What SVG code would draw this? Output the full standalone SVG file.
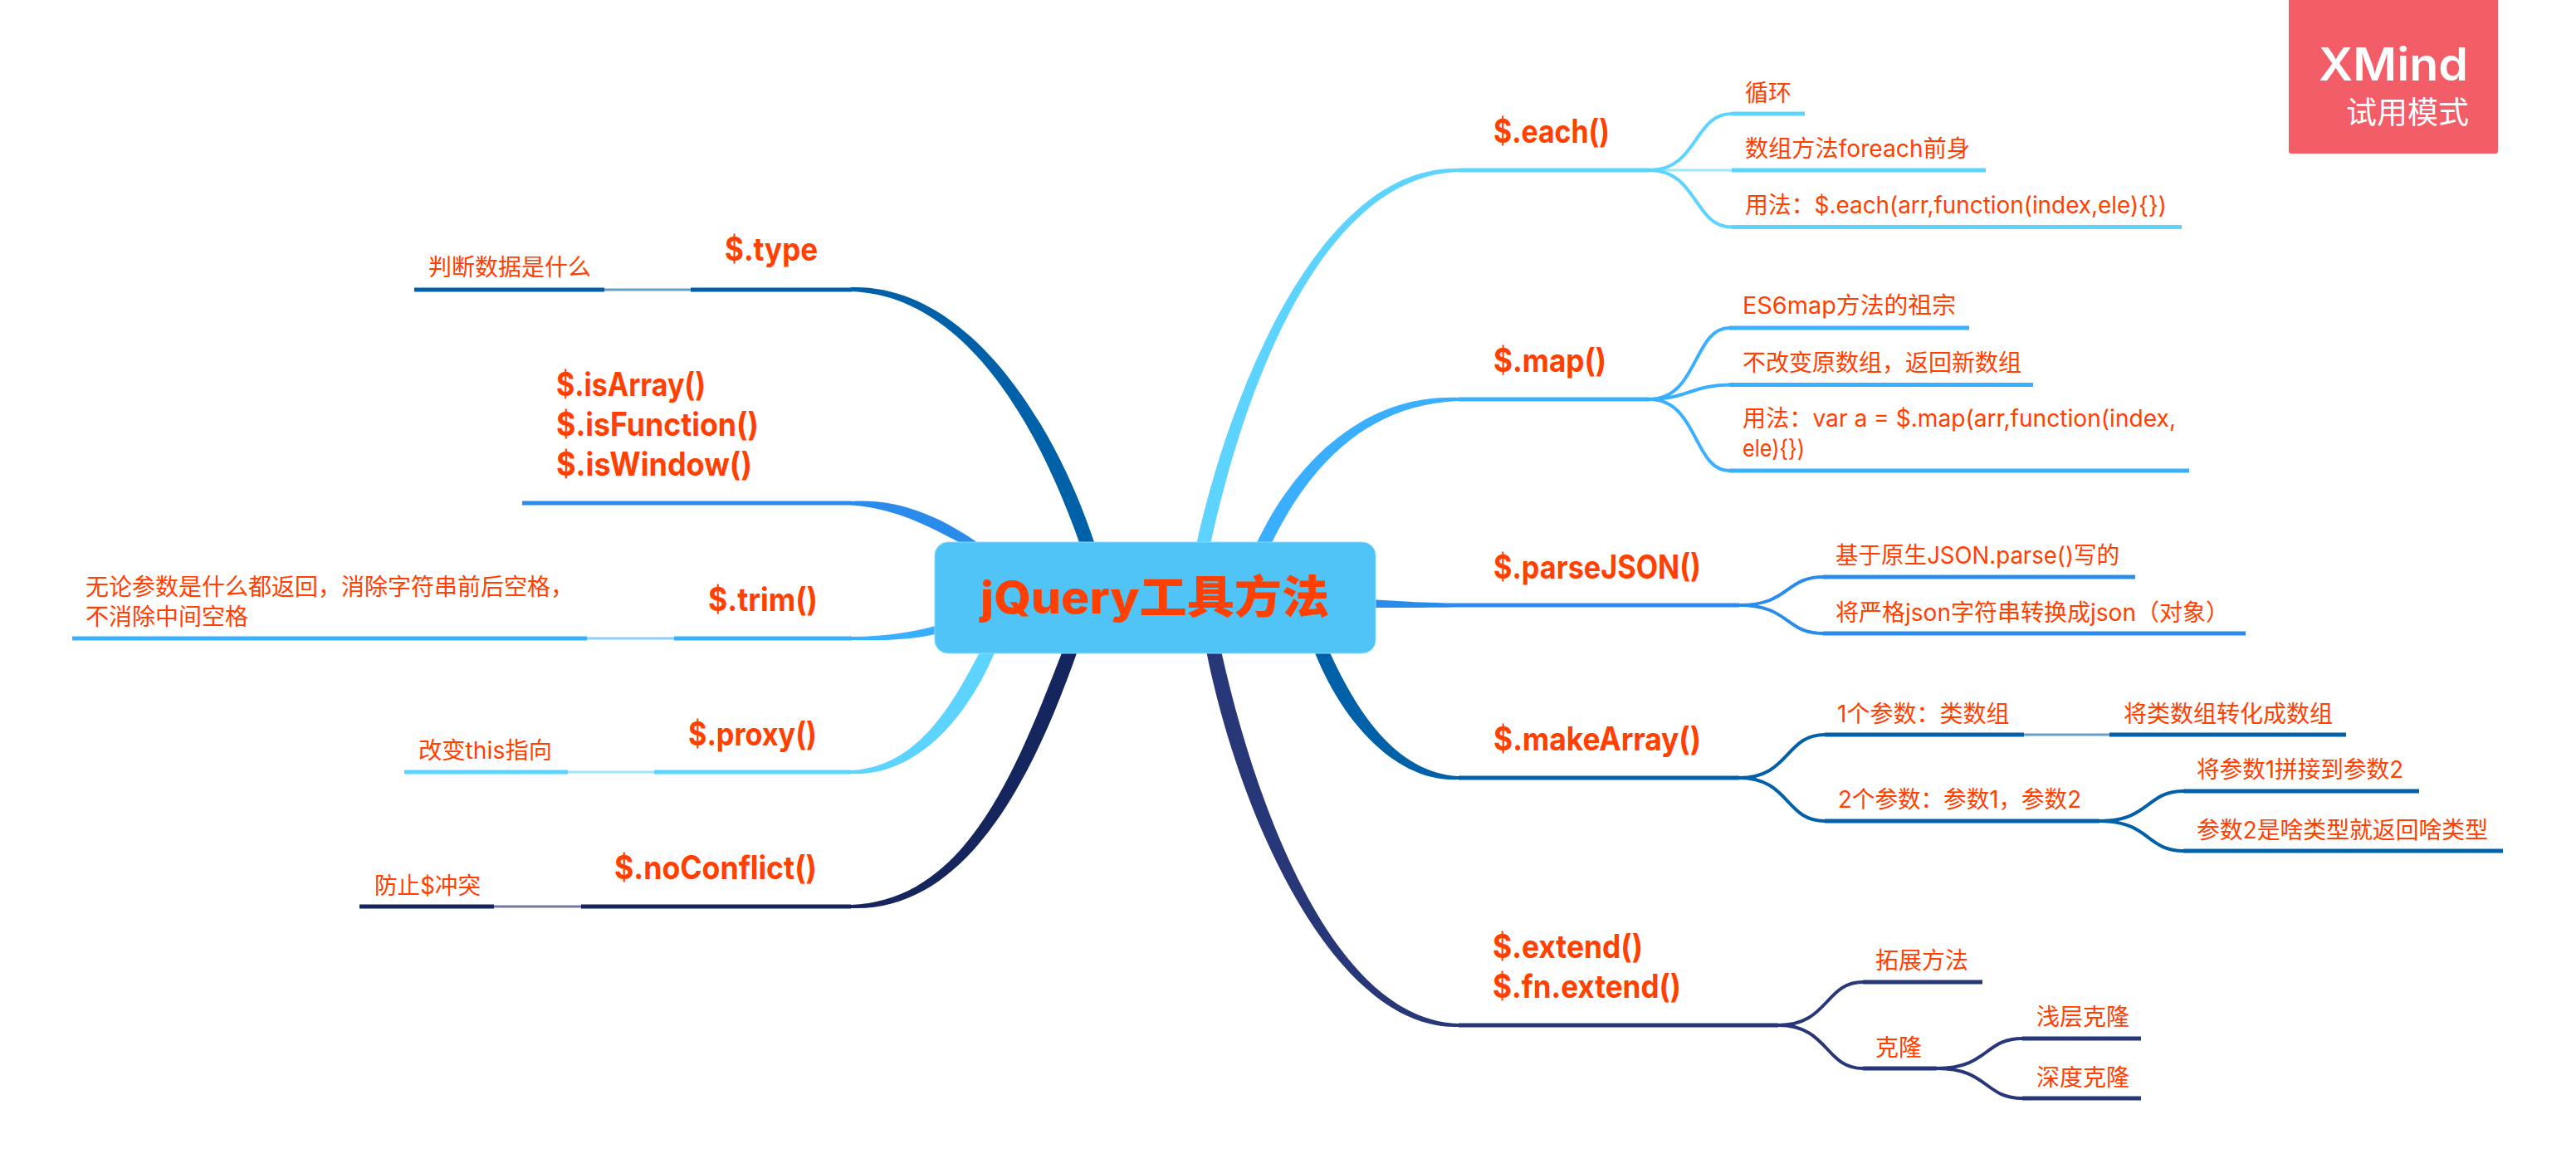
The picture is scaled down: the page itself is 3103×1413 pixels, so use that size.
<svg xmlns="http://www.w3.org/2000/svg" width="3103" height="1413" viewBox="0 0 3103 1413">
<style>
text{font-family:Inter,"Noto Sans CJK SC",sans-serif;fill:#ff4000}
.t{font-size:39px;font-weight:700}
.s{font-size:28px}
.c1{fill:#5dd3ff}.c2{fill:#3aafff}.c3{fill:#2a8cea}.c4{fill:#0060a8}.c5{fill:#273778}.c6{fill:#15255e}
.u,.f,.l{fill:none}
.u{stroke-width:5}
.f{stroke-width:4}
.l{stroke-width:3;opacity:.6}
.k1{stroke:#5dd3ff}.k2{stroke:#3aafff}.k3{stroke:#2a8cea}.k4{stroke:#0060a8}.k5{stroke:#273778}.k6{stroke:#15255e}
</style>
<rect width="3103" height="1413" fill="#fff"/>
<g id="connectors">
<path class="c1" d="M1458,656C1502,453 1597,212 1757,207L1757,203C1597,198 1486,453 1441,656Z"/>
<path class="c2" d="M1531,656C1566,584 1630,488 1757,483L1757,479C1630,474 1550,576 1513,656Z"/>
<path class="c3" d="M1620,720C1680,724 1720,726.500 1757,726.500L1757,731.500C1720,732 1680,732 1620,732Z"/>
<path class="c4" d="M1583,784C1615,866 1680,943 1757,939L1757,935C1680,931 1633,854 1601,784Z"/>
<path class="c5" d="M1453,784C1495,992 1610,1241 1757,1237L1757,1233C1610,1229 1515,982 1471,784Z"/>
<path class="c4" d="M1319,656C1274,518 1170,342 1025,346L1025,351C1170,356 1256,528 1301,656Z"/>
<path class="c3" d="M1184,658C1136,624 1085,600 1025,604L1025,608.500C1085,613 1125,638 1165,658Z"/>
<path class="c2" d="M1130,753C1100,762 1060,767 1026,767L1026,771C1060,772 1100,771 1130,763Z"/>
<path class="c1" d="M1199,784C1166,863 1105,936 1025,932L1025,928C1105,924 1146,851 1181,784Z"/>
<path class="c6" d="M1298,784C1245,935 1165,1099 1025,1094L1025,1090C1165,1085 1225,925 1280,784Z"/>

<path class="f k1" d="M1987,205C2045,205 2040,137 2086,137"/>
<path class="l k1" d="M1987,205H2086"/>
<path class="f k1" d="M1987,205C2045,205 2040,273.500 2086,273.500"/>
<path class="f k2" d="M1987,481C2045,481 2040,395 2083,395"/>
<path class="f k2" d="M1987,481C2030,481 2040,463.500 2083,463.500"/>
<path class="f k2" d="M1987,481C2045,481 2040,567 2083,567"/>
<path class="f k3" d="M2095,729C2156,729 2150,695 2196,695"/>
<path class="f k3" d="M2095,729C2156,729 2150,763 2196,763"/>
<path class="f k4" d="M2095,937C2156,937 2150,885 2198,885"/>
<path class="f k4" d="M2095,937C2156,937 2150,989 2198,989"/>
<path class="l k4" d="M2438,885H2541"/>
<path class="f k4" d="M2529,989C2590,989 2585,953 2630,953"/>
<path class="f k4" d="M2529,989C2590,989 2585,1025 2630,1025"/>
<path class="f k5" d="M2142,1235C2203,1235 2198,1183 2244,1183"/>
<path class="f k5" d="M2142,1235C2203,1235 2198,1287 2244,1287"/>
<path class="f k5" d="M2333,1287C2395,1287 2390,1251 2436,1251"/>
<path class="f k5" d="M2333,1287C2395,1287 2390,1323 2436,1323"/>
<path class="l k4" d="M728,349H832"/>
<path class="l k2" d="M707,769H812"/>
<path class="l k1" d="M684,930H788"/>
<path class="l k6" d="M595,1092H700"/>
</g>

<g id="center">
<rect x="1126" y="653" width="531" height="134" rx="16" fill="#50c3f7" stroke="#8adaff" stroke-width="1"/>
<text x="1181" y="739" font-size="54" font-weight="800" textLength="420" lengthAdjust="spacingAndGlyphs">jQuery工具方法</text>
</g>

<g id="each">
<path class="u k1" d="M1757,205H1987"/>
<text class="t" x="1799" y="172" textLength="140" lengthAdjust="spacingAndGlyphs">$.each()</text>
</g>
<g id="each-1"><path class="u k1" d="M2086,137H2174"/><text class="s" x="2102" y="122">循环</text></g>
<g id="each-2"><path class="u k1" d="M2086,205H2392"/><text class="s" x="2102" y="189" textLength="271" lengthAdjust="spacingAndGlyphs">数组方法foreach前身</text></g>
<g id="each-3"><path class="u k1" d="M2086,273.500H2628"/><text class="s" x="2102" y="257" textLength="508" lengthAdjust="spacingAndGlyphs">用法：$.each(arr,function(index,ele){})</text></g>

<g id="map">
<path class="u k2" d="M1757,481H1987"/>
<text class="t" x="1799" y="448" textLength="136" lengthAdjust="spacingAndGlyphs">$.map()</text>
</g>
<g id="map-1"><path class="u k2" d="M2083,395H2372"/><text class="s" x="2099" y="378" textLength="257" lengthAdjust="spacingAndGlyphs">ES6map方法的祖宗</text></g>
<g id="map-2"><path class="u k2" d="M2083,463.500H2449"/><text class="s" x="2099" y="447">不改变原数组，返回新数组</text></g>
<g id="map-3"><path class="u k2" d="M2083,567H2637"/><text class="s" x="2099" y="514" textLength="522" lengthAdjust="spacingAndGlyphs">用法：var a = $.map(arr,function(index,</text><text class="s" x="2099" y="550" textLength="75" lengthAdjust="spacingAndGlyphs">ele){})</text></g>

<g id="parseJSON">
<path class="u k3" d="M1757,729H2095"/>
<text class="t" x="1799" y="697" textLength="250" lengthAdjust="spacingAndGlyphs">$.parseJSON()</text>
</g>
<g id="parseJSON-1"><path class="u k3" d="M2196,695H2572"/><text class="s" x="2211" y="679" textLength="342" lengthAdjust="spacingAndGlyphs">基于原生JSON.parse()写的</text></g>
<g id="parseJSON-2"><path class="u k3" d="M2196,763H2705"/><text class="s" x="2211" y="748" textLength="474" lengthAdjust="spacingAndGlyphs">将严格json字符串转换成json（对象）</text></g>

<g id="makeArray">
<path class="u k4" d="M1757,937H2095"/>
<text class="t" x="1799" y="904" textLength="250" lengthAdjust="spacingAndGlyphs">$.makeArray()</text>
</g>
<g id="makeArray-1"><path class="u k4" d="M2198,885H2438"/><text class="s" x="2213" y="870">1个参数：类数组</text></g>
<g id="makeArray-1-1"><path class="u k4" d="M2541,885H2826"/><text class="s" x="2558" y="870">将类数组转化成数组</text></g>
<g id="makeArray-2"><path class="u k4" d="M2198,989H2529"/><text class="s" x="2214" y="973" textLength="293" lengthAdjust="spacingAndGlyphs">2个参数：参数1，参数2</text></g>
<g id="makeArray-2-1"><path class="u k4" d="M2630,953H2914"/><text class="s" x="2646" y="937" textLength="249" lengthAdjust="spacingAndGlyphs">将参数1拼接到参数2</text></g>
<g id="makeArray-2-2"><path class="u k4" d="M2630,1025H3015"/><text class="s" x="2646" y="1010" textLength="351" lengthAdjust="spacingAndGlyphs">参数2是啥类型就返回啥类型</text></g>

<g id="extend">
<path class="u k5" d="M1757,1235H2142"/>
<text class="t" x="1798" y="1154" textLength="181" lengthAdjust="spacingAndGlyphs">$.extend()</text>
<text class="t" x="1798" y="1202" textLength="227" lengthAdjust="spacingAndGlyphs">$.fn.extend()</text>
</g>
<g id="extend-1"><path class="u k5" d="M2244,1183H2388"/><text class="s" x="2259" y="1167">拓展方法</text></g>
<g id="extend-2"><path class="u k5" d="M2244,1287H2333"/><text class="s" x="2259" y="1272">克隆</text></g>
<g id="extend-2-1"><path class="u k5" d="M2436,1251H2579"/><text class="s" x="2453" y="1235">浅层克隆</text></g>
<g id="extend-2-2"><path class="u k5" d="M2436,1323H2579"/><text class="s" x="2453" y="1308">深度克隆</text></g>

<g id="type">
<path class="u k4" d="M832,349H1026"/>
<text class="t" x="873" y="314" textLength="112" lengthAdjust="spacingAndGlyphs">$.type</text>
</g>
<g id="type-1"><path class="u k4" d="M499,349H728"/><text class="s" x="516" y="332">判断数据是什么</text></g>

<g id="isArray">
<path class="u k3" d="M629,606H1026"/>
<text class="t" x="670" y="477" textLength="180" lengthAdjust="spacingAndGlyphs">$.isArray()</text>
<text class="t" x="670" y="525" textLength="244" lengthAdjust="spacingAndGlyphs">$.isFunction()</text>
<text class="t" x="670" y="573" textLength="236" lengthAdjust="spacingAndGlyphs">$.isWindow()</text>
</g>

<g id="trim">
<path class="u k2" d="M812,769H1026"/>
<text class="t" x="853" y="736" textLength="132" lengthAdjust="spacingAndGlyphs">$.trim()</text>
</g>
<g id="trim-1"><path class="u k2" d="M87,769H707"/><text class="s" x="103" y="717">无论参数是什么都返回，消除字符串前后空格，</text><text class="s" x="103" y="753">不消除中间空格</text></g>

<g id="proxy">
<path class="u k1" d="M788,930H1025"/>
<text class="t" x="829" y="898" textLength="155" lengthAdjust="spacingAndGlyphs">$.proxy()</text>
</g>
<g id="proxy-1"><path class="u k1" d="M487,930H684"/><text class="s" x="504" y="914" textLength="161" lengthAdjust="spacingAndGlyphs">改变this指向</text></g>

<g id="noConflict">
<path class="u k6" d="M700,1092H1025"/>
<text class="t" x="740" y="1059" textLength="244" lengthAdjust="spacingAndGlyphs">$.noConflict()</text>
</g>
<g id="noConflict-1"><path class="u k6" d="M433,1092H595"/><text class="s" x="451" y="1077" textLength="128" lengthAdjust="spacingAndGlyphs">防止$冲突</text></g>

<g id="watermark">
<rect x="2757" y="-4" width="252" height="189" rx="3" fill="#f25d68"/>
<text x="2793" y="97" font-size="55" font-weight="600" style="fill:#fff" textLength="180" lengthAdjust="spacingAndGlyphs">XMind</text>
<text x="2826" y="149" font-size="37" style="fill:#fff">试用模式</text>
</g>
</svg>
